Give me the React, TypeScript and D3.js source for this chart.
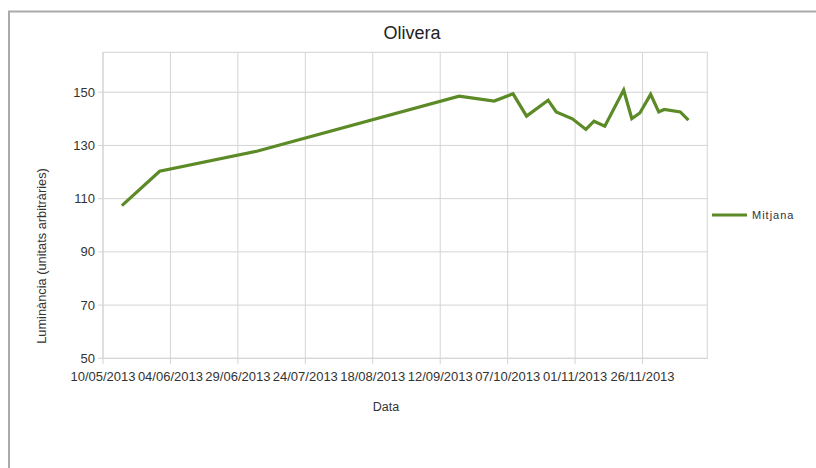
import React from 'react';
import * as d3 from 'd3';

// values
const dates = [
    '17/05/2013', '31/05/2013', '06/07/2013', '19/09/2013', '02/10/2013', '09/10/2013',
    '14/10/2013', '22/10/2013', '25/10/2013', '31/10/2013', '05/11/2013', '08/11/2013',
    '12/11/2013', '19/11/2013', '22/11/2013', '25/11/2013', '29/11/2013', '02/12/2013',
    '04/12/2013', '10/12/2013', '13/12/2013',
];
const mitjana = [
    107.4, 120.3, 127.8, 148.5, 146.7, 149.4,
    141.0, 147.0, 142.6, 140.0, 136.0, 139.1,
    137.2, 150.8, 140.1, 142.2, 149.2, 142.6,
    143.5, 142.6, 139.5,
];
const xTickLabels = [
    '10/05/2013', '04/06/2013', '29/06/2013', '24/07/2013', '18/08/2013',
    '12/09/2013', '07/10/2013', '01/11/2013', '26/11/2013',
];
const yTicks = [50, 70, 90, 110, 130, 150];

const parse = d3.timeParse('%d/%m/%Y');

interface Point {
    date: Date;
    value: number;
}

const App: React.FC = () => {
    const width = 816;
    const height = 468;
    const plot = { left: 103, right: 707.3, top: 52.3, bottom: 358.3 };

    const x = d3.scaleTime()
        .domain([parse('10/05/2013') as Date, parse('20/12/2013') as Date])
        .range([plot.left, plot.right]);

    const y = d3.scaleLinear()
        .domain([50, 165])
        .range([plot.bottom, plot.top]);

    const data: Point[] = dates.map((d, i) => ({ date: parse(d) as Date, value: mitjana[i] }));

    const line = d3.line<Point>()
        .x((d) => x(d.date))
        .y((d) => y(d.value));

    const font = '"Liberation Sans", Arial, sans-serif';
    const grid = '#d4d4d4';
    const textCol = '#333';
    const green = '#5b8a26';

    return (
        <svg width={width} height={height} style={{ position: 'absolute', left: 0, top: 0, background: '#fff' }}
            fontFamily={font}>
            <rect x={9} y={11.5} width={840} height={520} fill="#fff" stroke="#aaa" strokeWidth={2} />

            <text x={412} y={39} textAnchor="middle" fontSize={18} fill="#222">Olivera</text>

            {/* horizontal grid + y ticks */}
            {yTicks.map((t) => (
                <g key={t}>
                    <line x1={plot.left - 5} x2={plot.right} y1={y(t)} y2={y(t)} stroke={grid} />
                    <text x={plot.left - 8} y={y(t)} dy="0.35em" textAnchor="end" fontSize={13} fill={textCol}>{t}</text>
                </g>
            ))}

            {/* vertical grid + x ticks */}
            {xTickLabels.map((l) => {
                const px = x(parse(l) as Date);
                return (
                    <g key={l}>
                        <line x1={px} x2={px} y1={plot.top} y2={plot.bottom + 6} stroke={grid} />
                        <text x={px} y={381} textAnchor="middle" fontSize={13} fill={textCol}>{l}</text>
                    </g>
                );
            })}

            <rect x={plot.left} y={plot.top} width={plot.right - plot.left} height={plot.bottom - plot.top}
                fill="none" stroke={grid} />

            <path d={line(data) || ''} fill="none" stroke={green} strokeWidth={3.2} strokeLinejoin="miter" />

            <text transform="translate(46,256) rotate(-90)" textAnchor="middle" fontSize={12.8} fill={textCol}>
                Luminància (unitats arbitràries)
            </text>
            <text x={386} y={411} textAnchor="middle" fontSize={12.5} fill={textCol}>Data</text>

            <line x1={712} x2={747} y1={215} y2={215} stroke={green} strokeWidth={3.2} />
            <text x={752} y={215} dy="0.35em" fontSize={11} letterSpacing={1} fill={textCol}>Mitjana</text>
        </svg>
    );
};

export default App;
